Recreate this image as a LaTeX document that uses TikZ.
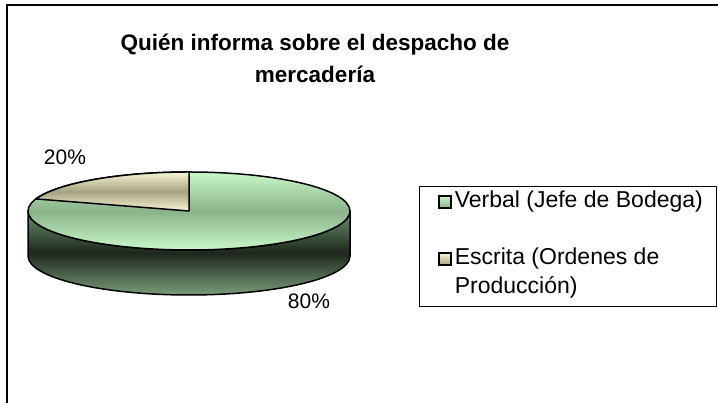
\documentclass[tikz,border=0pt]{standalone}
\usepackage{fontspec}
\setmainfont{Liberation Sans}
\usepackage{xcolor}
\usepackage{tikz}
\usetikzlibrary{positioning}

\definecolor{verdeClaro}{HTML}{C9F8C9}
\definecolor{verdeMedio}{HTML}{8AB38A}
\definecolor{verdeLado}{HTML}{6C916C}
\definecolor{verdeOscuro}{HTML}{1C281C}
\definecolor{tanClaro}{HTML}{F8F6D3}
\definecolor{tanMedio}{HTML}{A6A283}

\tikzstyle{marco} = [draw, line width=2pt]
\tikzstyle{borde} = [draw, line width=1.5pt, line join=round]
\tikzstyle{leyendabox} = [draw, line width=1.4pt, anchor=north west,
    minimum width=297pt, minimum height=120pt, inner sep=0pt]
\tikzstyle{cuadro} = [draw, line width=1.2pt, minimum size=12pt, inner sep=0pt]
\tikzstyle{etiqueta} = [font=\fontsize{23}{27}\selectfont, inner sep=0pt]
\tikzstyle{porcentaje} = [font=\fontsize{21}{25}\selectfont, inner sep=0pt]

\begin{document}
\begin{tikzpicture}[x=1pt, y=1pt]
                      \useasboundingbox (0,0) rectangle (718,403);
                      % Frame
                      \coordinate (fondo) at (7,0);
                      \coordinate (esquina) at (7,398);
                      \coordinate (derecha) at (718,398);
                      \draw [marco] (fondo) -- (esquina) -- (derecha);

                      % Title
                      \node [align=center, font=\bfseries\fontsize{22.5}{32}\selectfont] (titulo) at (315,345)
                          {Quién informa sobre el despacho de\\mercadería};

                      % Pie: side, top face, slice
                      \draw [borde, top color=verdeLado, bottom color=verdeLado!90, middle color=verdeOscuro]
                          (28,192) -- (28,147) arc[start angle=180, end angle=360, x radius=161, y radius=39]
                          -- (350,192) arc[start angle=0, end angle=-180, x radius=161, y radius=39] -- cycle;
                      \draw [borde, top color=verdeClaro, bottom color=verdeClaro, middle color=verdeMedio]
                          (189,192) ellipse [x radius=161, y radius=39];
                      \draw [borde, top color=tanClaro, bottom color=tanClaro, middle color=tanMedio]
                          (189,192) -- (189,231) arc[start angle=90, end angle=162, x radius=161, y radius=39] -- cycle;

                      \node [porcentaje] (p20) at (65,246) {20\%};
                      \node [porcentaje] (p80) at (309,102) {80\%};

                      % Legend
                      \node [leyendabox] (leyenda) at (419,217) {};
                      \node [cuadro, top color=verdeClaro, bottom color=verdeMedio] (cV) at (445,201) {};
                      \node [cuadro, top color=tanClaro, bottom color=tanMedio] (cE) at (445,144) {};
                      \node [etiqueta, right=3pt of cV] (tV) {Verbal (Jefe de Bodega)};
                      \node [etiqueta, right=3pt of cE] (tE) {Escrita (Ordenes de};
                      \node [etiqueta, below right=6pt and 0pt of tE.south west] (tP) {Producción)};
\end{tikzpicture}
\end{document}
